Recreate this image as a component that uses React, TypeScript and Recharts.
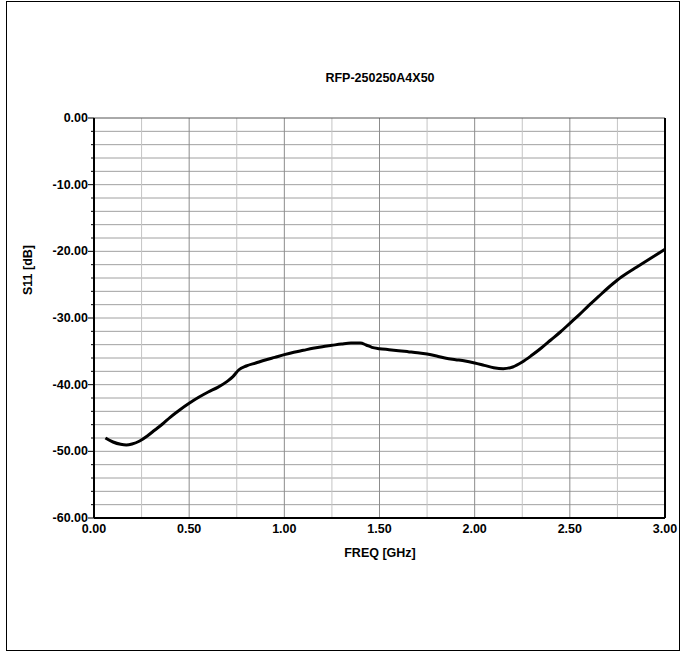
import React from 'react';
import { LineChart, Line, XAxis, YAxis, ReferenceLine } from 'recharts';

const freqGHz = [
  0.06, 0.1, 0.14, 0.17, 0.2, 0.24, 0.28, 0.32, 0.36, 0.4, 0.45, 0.5, 0.55, 0.6, 0.65, 0.7, 0.73, 0.76,
  0.8, 0.85, 0.9, 0.95, 1.0, 1.05, 1.1, 1.15, 1.2, 1.25, 1.3, 1.35, 1.4, 1.43, 1.46, 1.5, 1.55, 1.6,
  1.65, 1.7, 1.75, 1.8, 1.85, 1.9, 1.95, 2.0, 2.05, 2.1, 2.15, 2.2, 2.25, 2.3, 2.35, 2.4, 2.45, 2.5,
  2.55, 2.6, 2.65, 2.7, 2.75, 2.8, 2.85, 2.9, 2.95, 3.0,
];
const s11dB = [
  -48.0, -48.6, -48.95, -49.05, -48.9, -48.45, -47.7, -46.8, -45.9, -44.9, -43.8, -42.8, -41.9, -41.1,
  -40.4, -39.5, -38.8, -37.8, -37.2, -36.75, -36.3, -35.9, -35.5, -35.15, -34.85, -34.55, -34.3, -34.1,
  -33.9, -33.75, -33.75, -34.05, -34.4, -34.6, -34.75, -34.9, -35.05, -35.2, -35.4, -35.7, -36.05,
  -36.25, -36.45, -36.75, -37.1, -37.45, -37.6, -37.35, -36.6, -35.6, -34.5, -33.3, -32.1, -30.8,
  -29.5, -28.1, -26.8, -25.5, -24.3, -23.3, -22.4, -21.5, -20.6, -19.7,
];

const yTicks = [0, -2, -4, -6, -8, -10, -12, -14, -16, -18, -20, -22, -24, -26, -28, -30, -32, -34, -36, -38, -40, -42, -44, -46, -48, -50, -52, -54, -56, -58, -60];
const yGrid = [-2, -4, -6, -8, -10, -12, -14, -16, -18, -20, -22, -24, -26, -28, -30, -32, -34, -36, -38, -40, -42, -44, -46, -48, -50, -52, -54, -56, -58];
const xTicks = [0, 0.5, 1.0, 1.5, 2.0, 2.5, 3.0];
const xMajorGrid = [0.5, 1.0, 1.5, 2.0, 2.5];
const xMinorGrid = [0.25, 0.75, 1.25, 1.75, 2.25, 2.75];

const chartTitle = 'RFP-250250A4X50';
const xLabel = 'FREQ [GHz]';
const yLabel = 'S11 [dB]';

const data = freqGHz.map((f, i) => ({ f, s: s11dB[i] }));

const FONT = '"Liberation Sans", Arial, sans-serif';
const FS = 12.5;

const YTick = (props: any) => {
  const { x, y, payload } = props;
  const v = payload.value as number;
  const major = Math.round(v) % 10 === 0;
  const len = major ? 6 : 3;
  return (
    <g>
      <line x1={x - len} y1={y} x2={x} y2={y} stroke="#000" strokeWidth={1} />
      {major && (
        <text x={x - 6} y={y} dy={4} textAnchor="end" fontFamily={FONT} fontWeight="bold" fontSize={FS} fill="#000">
          {v.toFixed(2)}
        </text>
      )}
    </g>
  );
};

export default function App() {
  return (
    <div style={{ position: 'absolute', left: 0, top: 0, width: 681, height: 652, background: '#fff' }}>
      <div
        style={{
          position: 'absolute',
          left: 6,
          top: 1,
          width: 674,
          height: 650,
          border: '1px solid #000',
          boxSizing: 'border-box',
        }}
      />
      <LineChart
        width={681}
        height={652}
        data={data}
        margin={{ top: 118, right: 16, bottom: 104, left: 0 }}
        style={{ position: 'absolute', left: 0, top: 0 }}
      >
        <XAxis
          dataKey="f"
          type="number"
          domain={[0, 3]}
          ticks={xTicks}
          interval={0}
          tickFormatter={(v: number) => v.toFixed(2)}
          axisLine={{ stroke: '#000', strokeWidth: 2 }}
          tickLine={false}
          tickSize={0}
          tickMargin={6}
          height={30}
          tick={{ fill: '#000', fontFamily: FONT, fontWeight: 'bold', fontSize: FS }}
        />
        <YAxis
          type="number"
          domain={[-60, 0]}
          ticks={yTicks}
          interval={0}
          width={94}
          axisLine={{ stroke: '#000', strokeWidth: 2 }}
          tickLine={false}
          tickSize={0}
          tickMargin={0}
          tick={<YTick />}
        />
        {yGrid.map((v) => (
          <ReferenceLine key={'y' + v} y={v} stroke="#a0a0a0" strokeWidth={1} />
        ))}
        {xMinorGrid.map((v) => (
          <ReferenceLine key={'xm' + v} x={v} stroke="#c4c4c4" strokeWidth={1} />
        ))}
        {xMajorGrid.map((v) => (
          <ReferenceLine key={'xM' + v} x={v} stroke="#8c8c8c" strokeWidth={1} />
        ))}
        <ReferenceLine y={0} stroke="#555" strokeWidth={1} />
        <ReferenceLine x={3} stroke="#000" strokeWidth={2} />
        <Line
          dataKey="s"
          type="monotone"
          stroke="#000"
          strokeWidth={3}
          dot={false}
          isAnimationActive={false}
        />
      </LineChart>
      <svg width={681} height={652} style={{ position: 'absolute', left: 0, top: 0, pointerEvents: 'none' }}>
        <text x={380} y={82} textAnchor="middle" fontFamily={FONT} fontWeight="bold" fontSize={FS} fill="#000">
          {chartTitle}
        </text>
        <text x={380} y={557} textAnchor="middle" fontFamily={FONT} fontWeight="bold" fontSize={FS} fill="#000">
          {xLabel}
        </text>
        <text
          x={32}
          y={270}
          textAnchor="middle"
          fontFamily={FONT}
          fontWeight="bold"
          fontSize={FS}
          fill="#000"
          transform="rotate(-90 32 270)"
        >
          {yLabel}
        </text>
      </svg>
    </div>
  );
}
